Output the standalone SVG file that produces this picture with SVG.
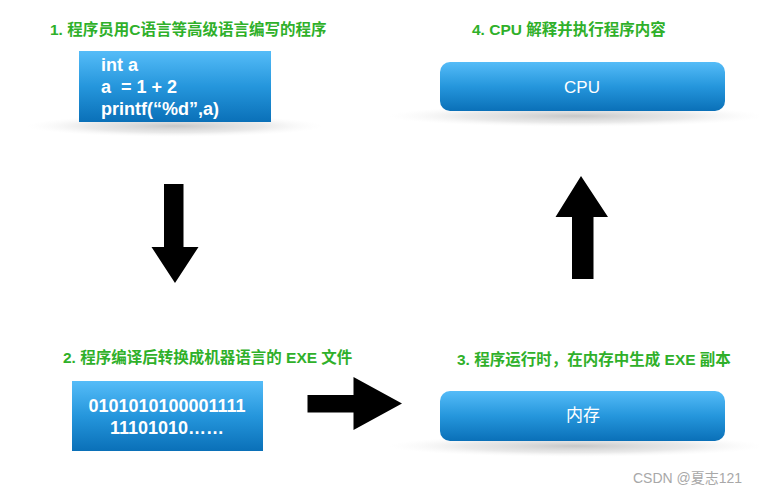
<svg xmlns="http://www.w3.org/2000/svg" width="759" height="494" viewBox="0 0 759 494">
  <defs>
    <linearGradient id="blue" x1="0" y1="0" x2="0" y2="1">
      <stop offset="0" stop-color="#55bcf8"/>
      <stop offset="0.5" stop-color="#2596dc"/>
      <stop offset="1" stop-color="#0a70b8"/>
    </linearGradient>
    <radialGradient id="shadow" cx="0.5" cy="0.5" r="0.5">
      <stop offset="0" stop-color="#c4c4c4" stop-opacity="0.95"/>
      <stop offset="0.6" stop-color="#dcdcdc" stop-opacity="0.6"/>
      <stop offset="1" stop-color="#f4f4f4" stop-opacity="0"/>
    </radialGradient>
    <style>
      .title { font-family: "Liberation Sans", "Noto Sans CJK SC", sans-serif; font-weight: bold; font-size: 15.5px; fill: #2fb02a; }
      .box { fill: url(#blue); }
      .label { font-family: "Liberation Sans", "Noto Sans CJK SC", sans-serif; fill: #ffffff; }
      .code { font-size: 18px; font-weight: bold; }
      .big { font-size: 17px; text-anchor: middle; }
      .arrow { fill: #000000; }
      .wm { font-family: "Liberation Sans", "Noto Sans CJK SC", sans-serif; font-size: 14px; fill: #a8a8a8; }
    </style>
  </defs>
  <rect width="759" height="494" fill="#ffffff"/>

  <g id="node-source">
    <text class="title" x="50" y="35">1. 程序员用C语言等高级语言编写的程序</text>
    <ellipse cx="175" cy="126" rx="148" ry="11" fill="url(#shadow)"/>
    <rect class="box" x="79" y="51" width="192" height="71"/>
    <text class="label code" x="101" y="71">int a</text>
    <text class="label code" x="101" y="93" xml:space="preserve">a  = 1 + 2</text>
    <text class="label code" x="101" y="115">printf(“%d”,a)</text>
  </g>

  <g id="node-exe">
    <text class="title" x="63" y="363">2. 程序编译后转换成机器语言的 EXE 文件</text>
    <rect class="box" x="72" y="381" width="191" height="70"/>
    <text class="label code" x="167" y="412" text-anchor="middle">0101010100001111</text>
    <text class="label code" x="167" y="434" text-anchor="middle">11101010……</text>
  </g>

  <g id="node-memory">
    <text class="title" x="457" y="365">3. 程序运行时，在内存中生成 EXE 副本</text>
    <ellipse cx="576" cy="446" rx="188" ry="11" fill="url(#shadow)"/>
    <rect class="box" x="440" y="391" width="285" height="50" rx="10" ry="10"/>
    <text class="label big" x="583" y="421">内存</text>
  </g>

  <g id="node-cpu">
    <text class="title" x="472" y="35">4. CPU 解释并执行程序内容</text>
    <ellipse cx="576" cy="116" rx="188" ry="11" fill="url(#shadow)"/>
    <rect class="box" x="440" y="62" width="285" height="49" rx="10" ry="10"/>
    <text class="label big" x="582" y="93">CPU</text>
  </g>

  <g id="connectors">
    <polygon class="arrow" points="164,184 183.5,184 183.5,247 198.5,247 175,283 151.5,247 164,247"/>
    <polygon class="arrow" points="307.5,395 353.5,395 353.5,377 402,403.5 353.5,430 353.5,412.5 307.5,412.5"/>
    <polygon class="arrow" points="572,279 593.5,279 593.5,217 608,217 581,176 555.5,217 572,217"/>
  </g>

  <text class="wm" x="633" y="483">CSDN @夏志121</text>
</svg>
